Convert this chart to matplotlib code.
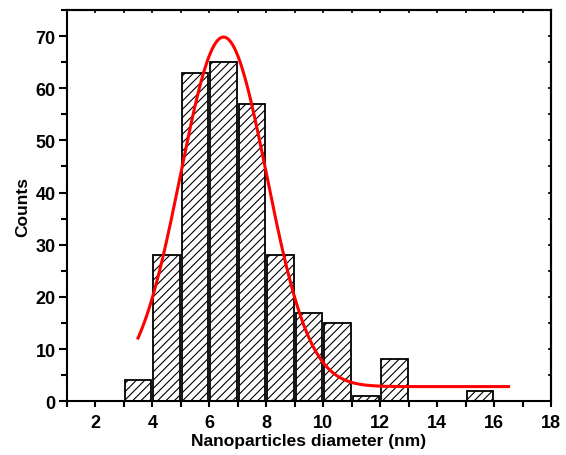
import numpy as np
import matplotlib.pyplot as plt
from matplotlib.ticker import MultipleLocator

plt.rcParams['font.family'] = ['Liberation Sans', 'DejaVu Sans']
plt.rcParams['font.weight'] = 'bold'
plt.rcParams['hatch.linewidth'] = 0.8

# histogram bins (left edges, nm) and counts
bin_left = [3, 4, 5, 6, 7, 8, 9, 10, 11, 12, 13, 14, 15]
counts = [4, 28, 63, 65, 57, 28, 17, 15, 1, 8, 0, 0, 2]

# gaussian fit parameters
fit_y0 = 2.8
fit_amp = 67.0
fit_xc = 6.5
fit_sigma = 1.51
fit_range = (3.5, 16.5)

fig = plt.figure(figsize=(5.66, 4.56), dpi=100)
ax = fig.add_axes([0.118, 0.118, 0.856, 0.858])

centers = np.array(bin_left) + 0.5
ax.bar(centers, counts, width=0.92, color='white', edgecolor='black',
       linewidth=1.3, hatch='////', zorder=2)

xf = np.linspace(fit_range[0], fit_range[1], 400)
yf = fit_y0 + fit_amp * np.exp(-(xf - fit_xc) ** 2 / (2 * fit_sigma ** 2))
ax.plot(xf, yf, color='red', linewidth=2.2, zorder=3)

ax.set_xlim(1, 18)
ax.set_ylim(0, 75)
ax.xaxis.set_major_locator(MultipleLocator(2))
ax.xaxis.set_minor_locator(MultipleLocator(1))
ax.yaxis.set_major_locator(MultipleLocator(10))
ax.yaxis.set_minor_locator(MultipleLocator(5))

ax.tick_params(axis='both', which='major', direction='out', width=1.5,
               labelsize=13)
ax.tick_params(axis='x', which='major', length=4, pad=5)
ax.tick_params(axis='y', which='major', length=6, pad=2)
ax.tick_params(axis='both', which='minor', direction='out', width=1.5, length=4)

# inward ticks on the top and right edges
top = ax.secondary_xaxis('top')
top.set_xticks(np.arange(1, 19, 1))
top.tick_params(direction='in', length=2.5, width=1.2, labeltop=False)
right = ax.secondary_yaxis('right')
right.set_yticks(np.arange(0, 76, 5))
right.tick_params(direction='in', length=2.5, width=1.2, labelright=False)

for sp in list(ax.spines.values()) + [top.spines['top'], right.spines['right']]:
    sp.set_linewidth(1.5)

ax.set_xlabel('Nanoparticles diameter (nm)', fontsize=12.5, fontweight='bold', labelpad=2)
ax.set_ylabel('Counts', fontsize=12.5, fontweight='bold', labelpad=4)

fig.savefig('out.png', dpi=100)
